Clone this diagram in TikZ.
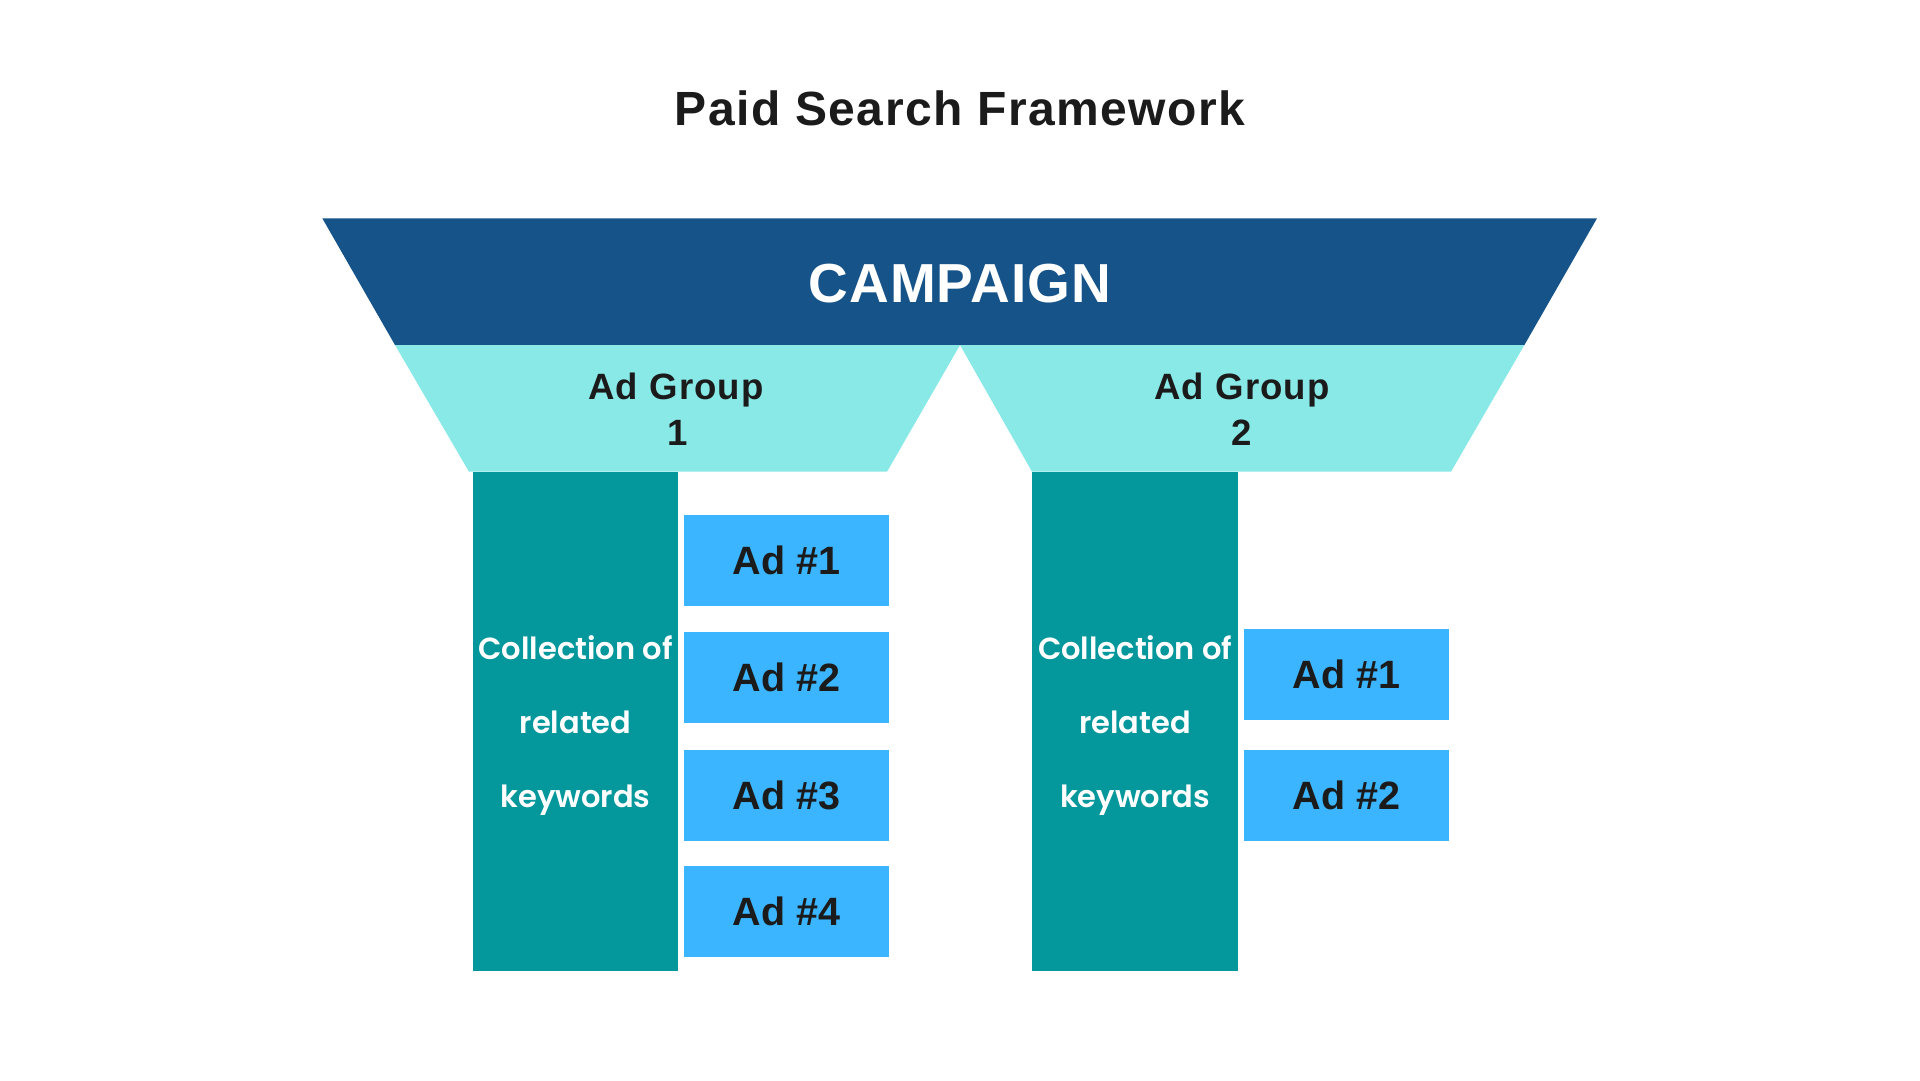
\documentclass[tikz,border=0pt]{standalone}
\usepackage{fontspec}
\newfontfamily\hdfont{Liberation Sans}[LetterSpace=3]
\newfontfamily\campfont{Liberation Sans}[LetterSpace=2]
\newfontfamily\adfont{Liberation Sans}
\newfontfamily\popfont{Poppins SemiBold}
\definecolor{campblue}{HTML}{155389}
\definecolor{grpcyan}{HTML}{88E9E7}
\definecolor{colteal}{HTML}{04979B}
\definecolor{adblue}{HTML}{3BB5FF}
\definecolor{ink}{HTML}{1B1B1B}
\tikzset{
  titletext/.style={inner sep=0pt, anchor=base, text=ink, font=\hdfont\bfseries\fontsize{48}{57}\selectfont},
  camptext/.style={inner sep=0pt, anchor=base, text=white, font=\campfont\bfseries\fontsize{55}{66}\selectfont},
  grptext/.style={inner sep=0pt, anchor=base, text=ink, font=\hdfont\bfseries\fontsize{36.6}{44}\selectfont},
  colbox/.style={fill=colteal, inner sep=0pt, anchor=north west, minimum width=205.4pt, minimum height=499.3pt},
  coltext/.style={inner sep=0pt, align=center, text=white, font=\popfont\fontsize{30.5}{74}\selectfont},
  adbox/.style={fill=adblue, inner sep=0pt, anchor=north west, minimum width=204.7pt, minimum height=91pt,
    text=ink, font=\adfont\bfseries\fontsize{39.5}{47}\selectfont},
}
\begin{document}
\begin{tikzpicture}[x=1pt,y=-1pt]
\useasboundingbox (0,0) rectangle (1920,1080);
\fill[white] (0,0) rectangle (1920,1080);

\node[titletext] (title) at (960,125.7) {Paid Search Framework};

% campaign band
\coordinate (ctl) at (322.3,218.3);
\coordinate (ctr) at (1597,218.3);
\coordinate (cbr) at (1524.4,345);
\coordinate (cbl) at (395,345);
\coordinate (apex) at (960,345);
\fill[campblue] (ctl) -- (ctr) -- (cbr) -- (cbl) -- cycle;
\node[camptext] (campaign) at (960,302.3) {CAMPAIGN};

% ad group bands
\coordinate (g1bl) at (469,471.7);
\coordinate (g1br) at (887,471.7);
\coordinate (g2bl) at (1032,471.7);
\coordinate (g2br) at (1451,471.7);
\fill[grpcyan] (cbl) -- (apex) -- (g1br) -- (g1bl) -- cycle;
\fill[grpcyan] (apex) -- (cbr) -- (g2br) -- (g2bl) -- cycle;
\node[grptext] (g1a) at (676,399.3) {Ad Group};
\node[grptext] (g1b) at (678,445) {1};
\node[grptext] (g2a) at (1242,399.3) {Ad Group};
\node[grptext] (g2b) at (1242,445) {2};

% keyword columns
\node[colbox] (col1) at (472.7,471.7) {};
\node[colbox] (col2) at (1032.2,471.7) {};
\node[coltext] (k1) at ([yshift=-4pt]col1.center) {Collection of\\related\\keywords};
\node[coltext] (k2) at ([yshift=-4pt]col2.center) {Collection of\\related\\keywords};

% ads group 1
\node[adbox] (a11) at (684,514.3) {Ad \#1};
\node[adbox] (a12) at (684,631.3) {Ad \#2};
\node[adbox] (a13) at (684,750) {Ad \#3};
\node[adbox] (a14) at (684,866) {Ad \#4};
% ads group 2
\node[adbox] (a21) at (1244,629) {Ad \#1};
\node[adbox] (a22) at (1244,750) {Ad \#2};
\end{tikzpicture}
\end{document}
